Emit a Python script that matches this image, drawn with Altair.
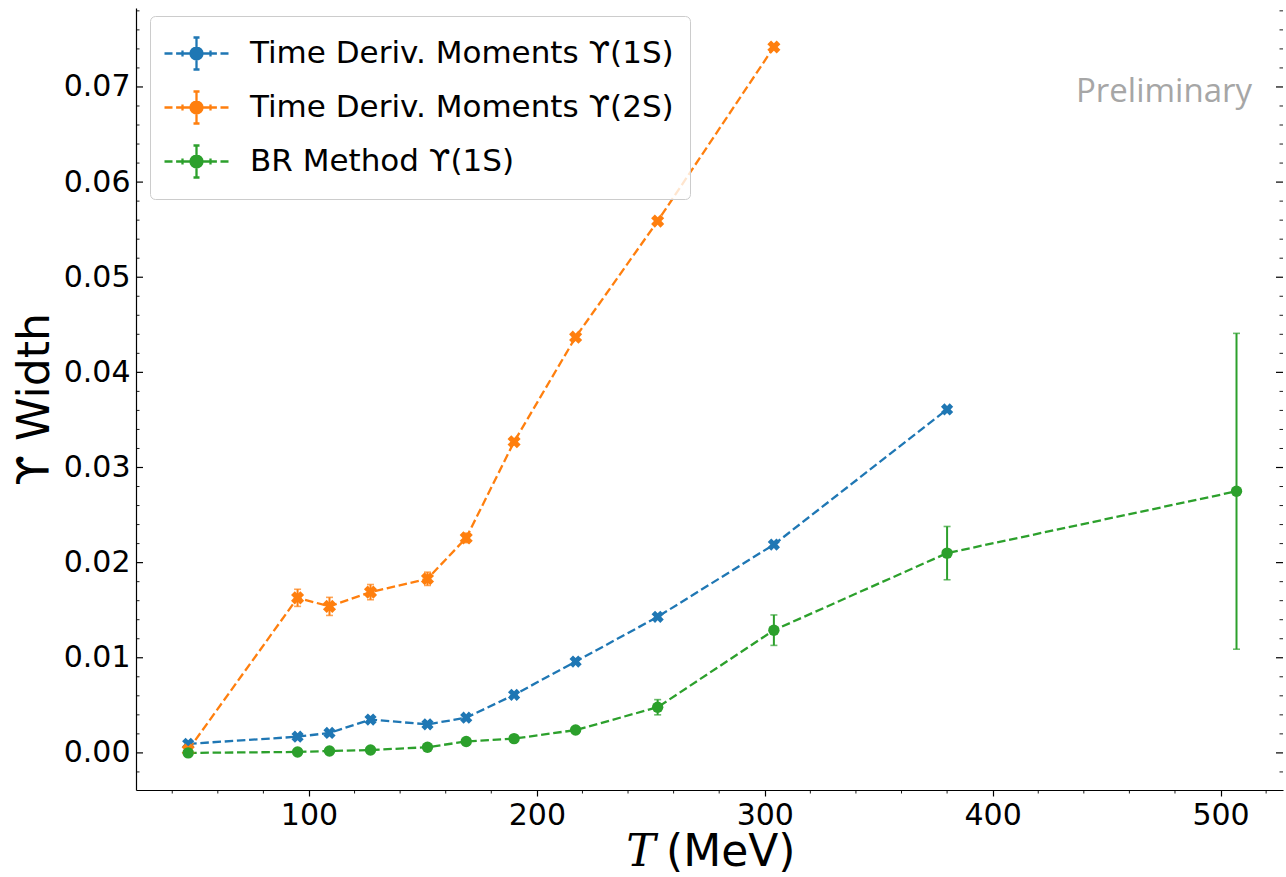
import math
import altair as alt
import pandas as pd

# ---------------- data ----------------
SERIES = ["Time Deriv. Moments ϒ(1S)", "Time Deriv. Moments ϒ(2S)", "BR Method ϒ(1S)"]
COLORS = ["#1f77b4", "#ff7f0e", "#2ca02c"]
SHAPES = ["cross", "cross", "circle"]
SIZES = [175, 175, 130]

T_TDM_1S = [47, 95, 109, 127, 152, 169, 190, 217, 253, 304, 380]
W_TDM_1S = [0.00095, 0.0017, 0.0021, 0.0035, 0.0030, 0.0037, 0.0061, 0.0096, 0.0143, 0.0219, 0.0361]
E_TDM_1S = [0.0001, 0.0001, 0.0001, 0.0002, 0.0002, 0.0002, 0.0002, 0.0002, 0.0002, 0.0002, 0.0002]

T_TDM_2S = [47, 95, 109, 127, 152, 169, 190, 217, 253, 304]
W_TDM_2S = [0.0003, 0.0163, 0.0154, 0.0169, 0.0183, 0.0226, 0.0327, 0.0437, 0.0559, 0.0742]
E_TDM_2S = [0.0001, 0.0009, 0.00095, 0.0008, 0.0007, 0.0005, 0.0003, 0.0002, 0.0002, 0.0002]

T_BR_1S = [47, 95, 109, 127, 152, 169, 190, 217, 253, 304, 380, 507]
W_BR_1S = [0.0000, 0.0001, 0.0002, 0.0003, 0.0006, 0.0012, 0.0015, 0.0024, 0.0048, 0.0129, 0.0210, 0.0275]
E_BR_1S = [0.0000, 0.0001, 0.0001, 0.0001, 0.0001, 0.0001, 0.0002, 0.0002, 0.0008, 0.0016, 0.0028, 0.0166]

X_MAJOR = [100, 200, 300, 400, 500]
X_MINOR = [40, 60, 80, 120, 140, 160, 180, 220, 240, 260, 280, 320, 340, 360, 380,
           420, 440, 460, 480, 520]
Y_MAJOR = [0.0, 0.01, 0.02, 0.03, 0.04, 0.05, 0.06, 0.07]
Y_MINOR = [-0.002, 0.002, 0.004, 0.006, 0.008, 0.012, 0.014, 0.016, 0.018, 0.022, 0.024,
           0.026, 0.028, 0.032, 0.034, 0.036, 0.038, 0.042, 0.044, 0.046, 0.048, 0.052,
           0.054, 0.056, 0.058, 0.062, 0.064, 0.066, 0.068, 0.072, 0.074, 0.076, 0.078]

# ---------------- table ----------------
rows = []
for name, ts, ws, es in zip(SERIES, [T_TDM_1S, T_TDM_2S, T_BR_1S],
                            [W_TDM_1S, W_TDM_2S, W_BR_1S], [E_TDM_1S, E_TDM_2S, E_BR_1S]):
    for t, w, e in zip(ts, ws, es):
        rows.append({"series": name, "T": t, "W": w, "lo": w - e, "hi": w + e})
df = pd.DataFrame(rows)

# order in which the library sorts the series names when it builds a domain from the data
SORTED = sorted(SERIES)
SORTED_COLORS = [COLORS[SERIES.index(s)] for s in SORTED]
SORTED_SHAPES = [SHAPES[SERIES.index(s)] for s in SORTED]
SORTED_SIZES = [SIZES[SERIES.index(s)] for s in SORTED]

W_PX, H_PX = 1147, 782
FONT = "DejaVu Sans"

x_scale = alt.Scale(domain=[24.1, 527.4], nice=False, zero=False)
y_scale = alt.Scale(domain=[-0.0039, 0.0783], nice=False, zero=False)

x_axis = alt.Axis(values=X_MAJOR, format="d", title=None, grid=False, tickSize=6,
                  tickWidth=1.2, tickColor="black", domainColor="black", domainWidth=1.2,
                  labelFont=FONT, labelFontSize=30, labelColor="black", labelPadding=4)
y_axis = alt.Axis(values=Y_MAJOR, format=".2f", title="ϒ Width", grid=False, ticks=False,
                  domainColor="black", domainWidth=1.2, labelFont=FONT, labelFontSize=30,
                  labelColor="black", labelPadding=6, titleFont=FONT, titleFontSize=44,
                  titleFontWeight="normal", titleColor="black", titlePadding=6)


def X(field):
    return alt.X(field, type="quantitative", scale=x_scale, axis=x_axis)


def Y(field):
    return alt.Y(field, type="quantitative", scale=y_scale, axis=y_axis)


def data_scale(rng):
    # domain taken from the data (sorted names) so these hidden guides stay apart from the legend
    return alt.Scale(range=rng)


# custom legend glyph (unit box): dashed line, x-errorbar with caps,
# y-errorbar with caps, and a dot built from concentric polygons
def ring(r, n=16):
    pts = [(r * math.cos(2 * math.pi * k / n), r * math.sin(2 * math.pi * k / n)) for k in range(n)]
    s = "M%.3f,%.3f" % pts[0]
    for p in pts[1:]:
        s += "L%.3f,%.3f" % p
    return s + "Z"


LEGEND_PATH = (
    "M-1.6,0L-1.2,0M-1.02,0L-0.7,0M0.7,0L1.02,0M1.2,0L1.6,0"
    "M-0.7,0L0.7,0"
    "M-0.7,-0.15L-0.7,0.15M0.7,-0.15L0.7,0.15"
    "M0,-0.8L0,0.8M-0.15,-0.8L0.15,-0.8M-0.15,0.8L0.15,0.8"
    + ring(0.3) + ring(0.2) + ring(0.1)
)

legend = alt.Legend(title=None, orient="none", legendX=14, legendY=8, direction="vertical",
                    symbolType=LEGEND_PATH, symbolSize=1600, symbolStrokeWidth=2.3,
                    symbolOffset=9, labelOffset=32, labelFont=FONT, labelFontSize=31,
                    labelColor="black", labelLimit=800, padding=16, rowPadding=11,
                    fillColor="rgba(255,255,255,0.8)", strokeColor="#cccccc",
                    cornerRadius=5)

base = alt.Chart(df)

lines = base.mark_line(strokeWidth=2.3, strokeDash=[8.5, 3.7]).encode(
    x=X("T"), y=Y("W"), stroke=alt.Stroke("series:N", scale=data_scale(SORTED_COLORS), legend=None))

errbars = base.mark_rule(strokeWidth=2).encode(
    x=X("T"), y=Y("lo"), y2="hi:Q",
    color=alt.Color("series:N", scale=alt.Scale(domain=SERIES, range=COLORS), legend=legend))

caps_lo = base.mark_tick(orient="horizontal", size=7, thickness=1.6).encode(
    x=X("T"), y=Y("lo"), fill=alt.Fill("series:N", scale=data_scale(SORTED_COLORS), legend=None))
caps_hi = base.mark_tick(orient="horizontal", size=7, thickness=1.6).encode(
    x=X("T"), y=Y("hi"), fill=alt.Fill("series:N", scale=data_scale(SORTED_COLORS), legend=None))

points = base.mark_point(filled=True, opacity=1, strokeWidth=0).encode(
    x=X("T"), y=Y("W"), fill=alt.Fill("series:N", scale=data_scale(SORTED_COLORS), legend=None),
    shape=alt.Shape("series:N", scale=data_scale(SORTED_SHAPES), legend=None),
    size=alt.Size("series:N", scale=data_scale(SORTED_SIZES), legend=None),
    angle=alt.value(45))

# ---------------- tick marks (inward on left/right, minor on bottom) ----------------
ymaj = alt.Chart(pd.DataFrame({"v": Y_MAJOR}))
ymin = alt.Chart(pd.DataFrame({"v": Y_MINOR}))
xmin = alt.Chart(pd.DataFrame({"v": X_MINOR}))

left_major = ymaj.mark_rule(color="black", strokeWidth=1.2).encode(y=Y("v"), x=alt.value(0), x2=alt.value(7))
left_minor = ymin.mark_rule(color="black", strokeWidth=0.9).encode(y=Y("v"), x=alt.value(0), x2=alt.value(3.5))
right_major = ymaj.mark_rule(color="black", strokeWidth=1.2).encode(y=Y("v"), x=alt.value(W_PX), x2=alt.value(W_PX - 7))
right_minor = ymin.mark_rule(color="black", strokeWidth=0.9).encode(y=Y("v"), x=alt.value(W_PX), x2=alt.value(W_PX - 3.5))
bottom_minor = xmin.mark_rule(color="black", strokeWidth=0.9).encode(x=X("v"), y=alt.value(H_PX), y2=alt.value(H_PX + 3.5))

# ---------------- annotations ----------------
prelim = alt.Chart(pd.DataFrame({"t": ["Preliminary"]})).mark_text(
    font="Open Sans", fontSize=33, color="#a6a6a6", align="center", baseline="alphabetic"
).encode(x=alt.value(1028), y=alt.value(94), text="t:N")

xt_T = alt.Chart(pd.DataFrame({"t": ["T"]})).mark_text(
    font="DejaVu Serif", fontStyle="italic", fontSize=44, color="black",
    align="center", baseline="alphabetic"
).encode(x=alt.value(505), y=alt.value(858), text="t:N")

xt_unit = alt.Chart(pd.DataFrame({"t": ["(MeV)"]})).mark_text(
    font=FONT, fontSize=44, color="black", align="left", baseline="alphabetic"
).encode(x=alt.value(530), y=alt.value(858), text="t:N")

chart = alt.layer(
    lines, errbars, caps_lo, caps_hi, points,
    left_major, left_minor, right_major, right_minor, bottom_minor,
    prelim, xt_T, xt_unit
).properties(
    width=W_PX, height=H_PX,
    background="white",
    autosize=alt.AutoSizeParams(type="none"),
    padding={"left": 136, "top": 8, "right": 3, "bottom": 87},
).configure_view(stroke=None)

chart.save("out.html", embed_options={"renderer": "svg", "actions": False})
